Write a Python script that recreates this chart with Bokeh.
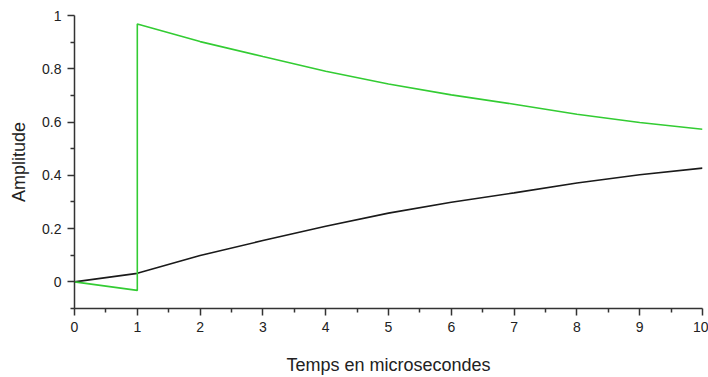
from bokeh.plotting import figure
from bokeh.models import FixedTicker, Range1d
from bokeh.embed import file_html
from bokeh.resources import INLINE

# Time axis (microseconds)
t_black = [0, 1, 2, 3, 4, 5, 6, 7, 8, 9, 10]
# Capacitor voltage (charging)
v_black = [0.0, 0.032, 0.099, 0.155, 0.209, 0.258, 0.299, 0.334, 0.371, 0.402, 0.427]

# Resistor voltage: drops slightly before the step, then jumps and decays
t_green = [0, 1, 1, 2, 3, 4, 5, 6, 7, 8, 9, 10]
v_green = [0.0, -0.032, 0.968, 0.902, 0.846, 0.791, 0.743, 0.702, 0.667, 0.629, 0.598, 0.573]

x_ticks = [0, 1, 2, 3, 4, 5, 6, 7, 8, 9, 10]
x_minor = [0.5, 1.5, 2.5, 3.5, 4.5, 5.5, 6.5, 7.5, 8.5, 9.5]
y_ticks = [0, 0.2, 0.4, 0.6, 0.8, 1.0]
y_labels = ["0", "0.2", "0.4", "0.6", "0.8", "1"]
y_minor = [-0.1, 0.1, 0.3, 0.5, 0.7, 0.9]

p = figure(width=708, height=377, output_backend="svg", toolbar_location=None,
           x_range=Range1d(0, 10), y_range=Range1d(-0.1, 1.0),
           min_border_left=74, min_border_right=6, min_border_top=15,
           min_border_bottom=68)
p.outline_line_color = None
p.xgrid.visible = False
p.ygrid.visible = False
p.background_fill_color = "white"
p.border_fill_color = "white"

p.line(t_black, v_black, line_color="#1a1a1a", line_width=1.6)
p.line(t_green, v_green, line_color="#33cc33", line_width=1.6)

for ax in (p.xaxis[0], p.yaxis[0]):
    ax.axis_line_color = "#333333"
    ax.axis_line_width = 1.5
    ax.major_tick_line_color = "#333333"
    ax.minor_tick_line_color = "#333333"
    ax.major_tick_line_width = 1.5
    ax.minor_tick_line_width = 1.5
    ax.major_tick_out = 7
    ax.major_tick_in = 0
    ax.minor_tick_out = 4
    ax.minor_tick_in = 0
    ax.major_label_text_font = "Liberation Sans"
    ax.major_label_text_font_size = "14px"
    ax.major_label_text_color = "#222222"
    ax.axis_label_text_font = "Liberation Sans"
    ax.axis_label_text_font_size = "18px"
    ax.axis_label_text_font_style = "normal"
    ax.axis_label_text_color = "#222222"
    ax.major_label_standoff = 6

p.xaxis[0].ticker = FixedTicker(ticks=x_ticks, minor_ticks=x_minor)
p.xaxis[0].major_label_overrides = {t: str(t) for t in x_ticks}
p.xaxis[0].axis_label = "Temps en microsecondes"
p.xaxis[0].axis_label_standoff = 20

p.yaxis[0].ticker = FixedTicker(ticks=y_ticks, minor_ticks=y_minor)
p.yaxis[0].major_label_overrides = dict(zip(y_ticks, y_labels))
p.yaxis[0].axis_label = "Amplitude"
p.yaxis[0].axis_label_standoff = 10

open("out.html", "w").write(file_html(p, INLINE))
